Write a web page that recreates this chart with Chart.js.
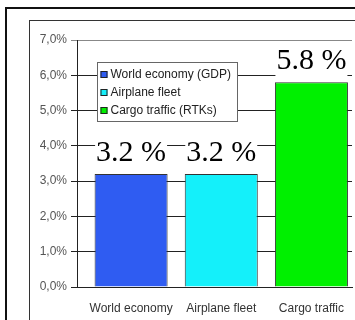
<!DOCTYPE html>
<html>
<head>
<meta charset="utf-8">
<script src="https://cdn.jsdelivr.net/npm/chart.js@4/dist/chart.umd.min.js"></script>
<style>
  html, body { margin: 0; padding: 0; background: #fff; }
  canvas { display: block; }
</style>
</head>
<body>
<canvas id="chart" width="355" height="320"></canvas>
<script>
// Average annual growth rates
const categories = ['World economy', 'Airplane fleet', 'Cargo traffic'];
const seriesNames = ['World economy (GDP)', 'Airplane fleet', 'Cargo traffic (RTKs)'];
const growthRates = [3.2, 3.2, 5.8];
const yTickValues = [0, 1, 2, 3, 4, 5, 6, 7];
const barColors = ['#2f5cf2', '#14f0fa', '#00f000'];

const SANS = '"Liberation Sans", Arial, sans-serif';
const SERIF = '"Liberation Serif", "Times New Roman", serif';

// White page with the double frame around the figure
const framePlugin = {
  id: 'frame',
  beforeDraw(chart) {
    const ctx = chart.ctx;
    ctx.save();
    ctx.fillStyle = '#fff';
    ctx.fillRect(0, 0, chart.width, chart.height);
    ctx.strokeStyle = '#111';
    ctx.lineWidth = 2;
    ctx.strokeRect(6, 8, 400, 400);
    ctx.strokeStyle = '#333';
    ctx.lineWidth = 1;
    ctx.strokeRect(29.5, 20.5, 400, 400);
    ctx.restore();
  }
};

// Growth figure printed above each bar on a white patch
const valueLabelPlugin = {
  id: 'valueLabels',
  afterDatasetsDraw(chart) {
    const ctx = chart.ctx;
    const meta = chart.getDatasetMeta(0);
    ctx.save();
    ctx.font = '30px ' + SERIF;
    ctx.textAlign = 'center';
    ctx.textBaseline = 'alphabetic';
    meta.data.forEach((bar, i) => {
      const text = growthRates[i].toFixed(1) + ' %';
      const w = ctx.measureText(text).width;
      const base = bar.y - 13;
      ctx.fillStyle = '#fff';
      ctx.fillRect(bar.x - w / 2 - 1, base - 24, w + 2, 31);
      ctx.fillStyle = '#000';
      ctx.fillText(text, bar.x, base);
    });
    ctx.restore();
  }
};

// Boxed legend inside the plot area
const legendBoxPlugin = {
  id: 'legendBox',
  afterDraw(chart) {
    const ctx = chart.ctx;
    const left = 97.5, top = 62.5, width = 140, height = 59;
    ctx.save();
    ctx.fillStyle = '#fff';
    ctx.fillRect(left, top, width, height);
    ctx.strokeStyle = '#666';
    ctx.lineWidth = 1;
    ctx.strokeRect(left, top, width, height);
    ctx.font = '12px ' + SANS;
    ctx.textBaseline = 'middle';
    ctx.textAlign = 'left';
    seriesNames.forEach((name, i) => {
      const cy = top + 12 + i * 18;
      ctx.fillStyle = barColors[i];
      ctx.fillRect(left + 3, Math.round(cy - 3.5), 7, 7);
      ctx.strokeStyle = '#222';
      ctx.strokeRect(left + 3.5, Math.round(cy - 3.5) + 0.5, 6, 6);
      ctx.fillStyle = '#222';
      ctx.fillText(name, left + 13, cy + 0.5);
    });
    ctx.restore();
  }
};

new Chart(document.getElementById('chart'), {
  type: 'bar',
  data: {
    datasets: [{
      data: growthRates.map((v, i) => ({ x: i, y: v })),
      backgroundColor: barColors,
      borderColor: '#333',
      borderWidth: 1,
      categoryPercentage: 1,
      barPercentage: 0.81
    }]
  },
  options: {
    responsive: false,
    animation: false,
    devicePixelRatio: 1,
    layout: { padding: { left: 0, top: 40, right: 3, bottom: 0 } },
    plugins: { legend: { display: false }, tooltip: { enabled: false } },
    scales: {
      x: {
        type: 'linear',
        offset: false,
        min: -0.6,
        max: 2.45,
        afterBuildTicks(scale) { scale.ticks = categories.map((_, i) => ({ value: i })); },
        afterFit(scale) { scale.height = 33; },
        grid: { display: false, offset: false },
        border: { display: true, color: '#222', width: 1 },
        ticks: {
          padding: 6,
          color: '#333',
          font: { family: SANS, size: 12 },
          callback: (v) => categories[v]
        }
      },
      y: {
        min: 0,
        max: 7,
        afterBuildTicks(scale) { scale.ticks = yTickValues.map(v => ({ value: v })); },
        afterFit(scale) { scale.width = 77; },
        grid: {
          color: (c) => (c.tick && c.tick.value === 7 ? '#888' : '#222'),
          lineWidth: 1,
          tickLength: 6
        },
        border: { display: true, color: '#222', width: 1 },
        ticks: {
          padding: 4,
          color: '#555',
          font: { family: SANS, size: 12 },
          callback: (v) => v.toFixed(1).replace('.', ',') + '%'
        }
      }
    }
  },
  plugins: [framePlugin, valueLabelPlugin, legendBoxPlugin]
});
</script>
</body>
</html>
